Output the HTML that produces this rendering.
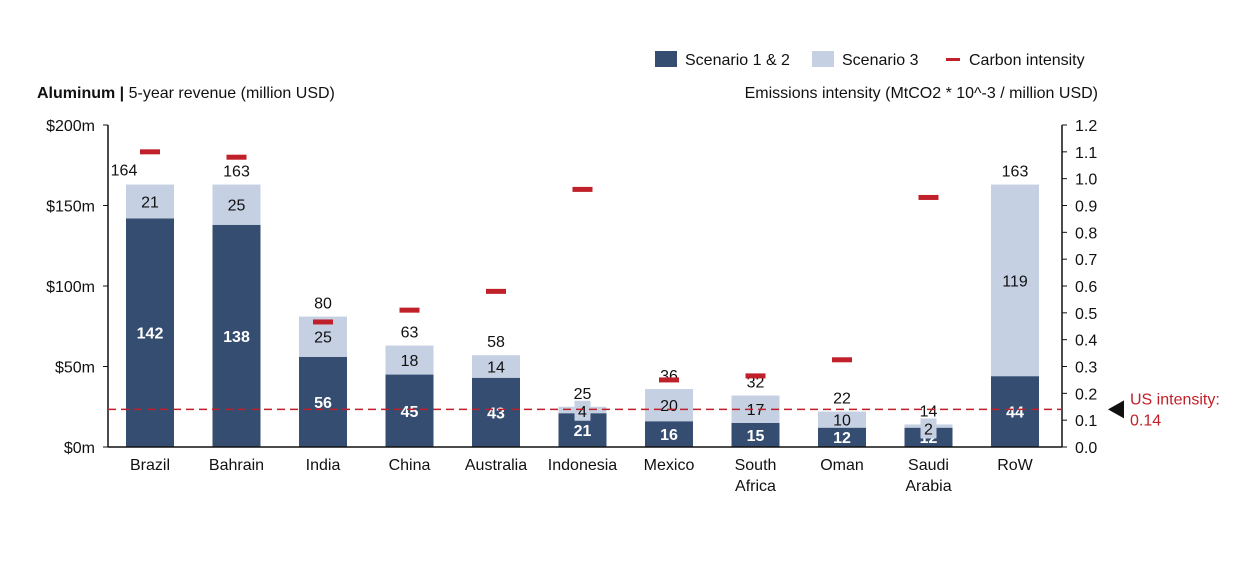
<!DOCTYPE html>
<html><head><meta charset="utf-8"><style>
body{margin:0;background:#fff;font-family:"Liberation Sans",sans-serif;}
svg text{font-family:"Liberation Sans",sans-serif;}
</style></head><body>
<svg id="c" width="1240" height="564" xmlns="http://www.w3.org/2000/svg">
<g>
<rect x="655" y="51" width="22" height="16" fill="#344d70"/>
<text x="685" y="65" font-size="16" fill="#111">Scenario 1 &amp; 2</text>
<rect x="812" y="51" width="22" height="16" fill="#c5d0e3"/>
<text x="842" y="65" font-size="16" fill="#111">Scenario 3</text>
<rect x="946" y="58" width="14" height="3" fill="#c0202a"/>
<text x="969" y="65" font-size="16" fill="#111">Carbon intensity</text>
</g>
<text x="37" y="98" font-size="16" fill="#111"><tspan font-weight="bold">Aluminum |</tspan>  5-year revenue (million USD)</text>
<text x="1098" y="98" font-size="16" fill="#111" text-anchor="end">Emissions intensity (MtCO2 * 10^-3 / million USD)</text>
<g id="plot"></g>
</svg>
<script>
const categories=["Brazil","Bahrain","India","China","Australia","Indonesia","Mexico","South Africa","Oman","Saudi Arabia","RoW"];
const scen12=[142,138,56,45,43,21,16,15,12,12,44];
const scen3=[21,25,25,18,14,4,20,17,10,2,119];
const totals=[164,163,80,63,58,25,36,32,22,14,163];
const intensity=[1.10,1.08,0.466,0.51,0.58,0.96,0.25,0.265,0.325,0.93,null];
const leftTicks=["$0m","$50m","$100m","$150m","$200m"];
const rightTicks=["0.0","0.1","0.2","0.3","0.4","0.5","0.6","0.7","0.8","0.9","1.0","1.1","1.2"];
const usIntensity=0.14;
const NS="http://www.w3.org/2000/svg";
const g=document.getElementById('plot');
const x0=108,x1=1062,y0=447,y1=125,step=86.5,first=150,bw=48;
const yL=v=>y0-(v/200)*(y0-y1);
const yR=v=>y0-(v/1.2)*(y0-y1);
const xC=i=>first+i*step;
function el(tag,a){const e=document.createElementNS(NS,tag);for(const k in a)e.setAttribute(k,a[k]);g.appendChild(e);return e;}
function txt(x,y,s,a){const e=el('text',Object.assign({x:x,y:y,'font-size':16,fill:'#111','text-anchor':'middle'},a||{}));e.textContent=s;return e;}
// axes
let ax=el('line',{x1:x0,y1:y1,x2:x0,y2:y0,stroke:'#111','stroke-width':1.5});


ax=el('line',{x1:x1,y1:y1,x2:x1,y2:y0,stroke:'#111','stroke-width':1.5});


leftTicks.forEach((t,i)=>{const y=yL(i*50);
 el('line',{x1:x0-5,y1:y,x2:x0,y2:y,stroke:'#111'});
 const e=txt(x0-13,y+6,t,{'text-anchor':'end'});
 
 });
rightTicks.forEach((t,i)=>{const y=yR(parseFloat(t));
 el('line',{x1:x1,y1:y,x2:x1+5,y2:y,stroke:'#111'});
 const e=txt(x1+13,y+6,t,{'text-anchor':'start'});
 
 });
categories.forEach((c,i)=>{const cx=xC(i);
 const b1=el('rect',{x:cx-bw/2,y:yL(scen12[i]),width:bw,height:y0-yL(scen12[i]),fill:'#344d70'});
 
 
 const top=yL(scen12[i]+scen3[i]);
 const b2=el('rect',{x:cx-bw/2,y:top,width:bw,height:yL(scen12[i])-top,fill:'#c5d0e3'});
 
 
 const h1=y0-yL(scen12[i]);
 const l1=txt(cx,(y0+yL(scen12[i]))/2+6,String(scen12[i]),{fill:'#fff','font-weight':'bold'});
 if(h1<20)l1.setAttribute('y',y0-4);
 
 
 const h2=yL(scen12[i])-top;
 let my=(top+yL(scen12[i]))/2+6;
 if(h2<14){el('rect',{x:cx-8,y:top-6,width:16,height:20,fill:'#c5d0e3'});my=top+10;}
 const l2=txt(cx,my,String(scen3[i]));
 
 
 const l3=txt(i===0?cx-26:cx,top-8,String(totals[i]));
 if(i===0)l3.setAttribute('y',top-9);
 
 
 const lines=c==="South Africa"?["South","Africa"]:c==="Saudi Arabia"?["Saudi","Arabia"]:[c];
 lines.forEach((s,k)=>{const e=txt(cx,470+k*21,s);
  
  });
 if(intensity[i]!==null){const m=el('rect',{x:cx-10,y:yR(intensity[i])-2.5,width:20,height:5,fill:'#c0202a'});
  
  }
});
const us=el('line',{x1:x0,y1:yR(usIntensity),x2:x1,y2:yR(usIntensity),stroke:'#c0202a','stroke-width':1.5,'stroke-dasharray':'8,5'});


const tri=el('polygon',{points:`1108,${yR(usIntensity)} 1124,${yR(usIntensity)-9} 1124,${yR(usIntensity)+9}`,fill:'#111'});


const u1=txt(1130,yR(usIntensity)-5,'US intensity:',{'text-anchor':'start',fill:'#c0202a'});


const u2=txt(1130,yR(usIntensity)+16,String(usIntensity),{'text-anchor':'start',fill:'#c0202a'});


const base=el('line',{x1:x0,y1:y0,x2:x1,y2:y0,stroke:'#111','stroke-width':1.5});


</script>
</body></html>
